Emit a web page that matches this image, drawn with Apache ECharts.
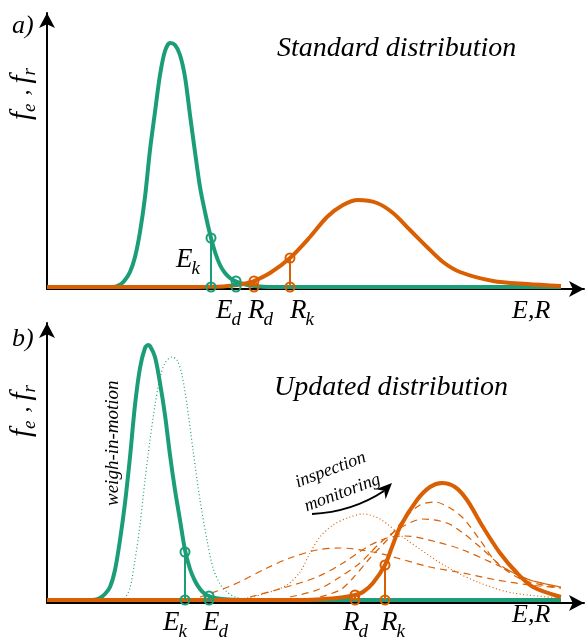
<!DOCTYPE html>
<html><head><meta charset="utf-8">
<script src="https://cdn.jsdelivr.net/npm/echarts@6/dist/echarts.min.js"></script>
<style>html,body{margin:0;padding:0;background:#fff}#c{width:586px;height:641px}</style>
</head><body><div id="c"></div>
<script>
const GREEN = '#1b9e77', ORANGE = '#d95f02';
// ---- panel a (x: E/R scale units, y: density units) ----
const aGreen = [[66,0],[70,1],[74,3],[78,7],[83,15],[88,30],[93,55],[98,90],[103,137],[108,175],[113,212],[118,236],[123,244],[128,242],[133,232],[138,210],[143,172],[148,135],[153,100],[158,75],[163,53],[168,35],[173,22],[178,14],[183,9],[188,6],[193,4],[203,1.5],[213,0.5],[228,0],[514,0]];
const aOrange = [[0,0],[140,0],[160,0.2],[176,0.6],[186,1.5],[196,3],[207,6],[223,14],[243,29],[263,50],[280,70],[296,82],[311,87],[330,84],[346,74],[363,57],[380,40],[396,25],[413,15],[446,6],[480,3],[514,1]];
const aMarks = [['Ek',164,49,GREEN],['Ed',189,6,GREEN],['Rd',207,6,ORANGE],['Rk',243,29,ORANGE]];
// ---- panel b ----
const bGreen = [[45,0],[49,0.5],[53,2],[58,6],[63,13],[68,30],[73,60],[78,97],[83,143],[88,195],[93,232],[98,252],[101,255],[103,254],[108,243],[113,217],[118,185],[123,145],[128,110],[133,80],[138,50],[143,31],[148,19],[153,11],[158,6],[163,3.5],[168,2],[178,0.7],[193,0],[514,0]];
const bGreenPrior = [[74,0],[78,2],[83,12],[88,40],[93,75],[98,120],[103,160],[108,195],[113,222],[118,237],[125,243],[130,240],[135,225],[140,195],[146,150],[153,100],[160,60],[166,32],[173,16],[180,8],[188,3],[198,1],[208,0]];
const bOrange = [[0,0],[250,0],[270,0.5],[285,1.5],[298,3],[308,5],[316,8],[326,17],[338,35],[345,53],[353,73],[370,100],[383,113],[395,117],[408,113],[420,100],[436,73],[453,47],[470,27],[486,13],[514,3]];
const bOrangePrior = [[190,0.5],[200,2],[220,7],[240,15],[253,28],[263,47],[273,63],[286,75],[303,83],[316,86],[333,81],[360,60],[400,33],[433,17],[466,7],[514,2]];
const bUpd1 = [[153,3],[186,15],[220,32],[243,42],[270,50],[293,52],[326,48],[350,42],[383,33],[416,27],[450,20],[483,15],[514,12]];
const bUpd2 = [[203,3],[236,12],[270,23],[296,37],[320,53],[340,62],[358,64],[390,58],[416,50],[450,35],[483,20],[514,13]];
const bUpd3 = [[243,3],[270,10],[293,23],[313,37],[333,57],[353,72],[376,81],[400,77],[416,67],[433,53],[456,33],[483,20],[514,13]];
const bUpd4 = [[273,3],[293,10],[306,22],[323,42],[340,60],[358,82],[373,95],[388,98],[403,92],[416,82],[433,60],[450,37],[476,20],[514,12]];
const bMarks = [['Ek',138,48,GREEN],['Ed',162,4,GREEN],['Rd',308,5,ORANGE],['Rk',338,35,ORANGE]];

const FF = '"Liberation Serif","Times New Roman",serif';
const ctx = document.createElement('canvas').getContext('2d');
function tw(t, font){ ctx.font = font; return ctx.measureText(t).width; }
function label(x, y, parts, rot){
  let cx = 0; const children = [];
  parts.forEach(p => {
    const font = 'italic ' + p[1] + 'px ' + FF;
    children.push({type:'text', x:cx, y:p[2]||0, style:{text:p[0], font:font, fill:'#000', verticalAlign:'middle', align:'left'}});
    cx += tw(p[0], font) + (p[3]||0);
  });
  return {type:'group', x:x, y:y, rotation:rot||0, children:children};
}
function sub(x, y, a, b){ return label(x, y, [[a,27,0,-1],[b,19,9]]); }

function curve(data, color, gi, width, dash, z){
  return {type:'line', xAxisIndex:gi, yAxisIndex:gi, data:data, smooth:0.3, showSymbol:false, symbol:'none',
    lineStyle:{color:color, width:width, type:dash||'solid', opacity:1}, z:z||2, silent:true};
}
function marker(m, gi){
  return {type:'line', xAxisIndex:gi, yAxisIndex:gi, data:[[m[1],0],[m[1],m[2]]], symbol:'circle', symbolSize:9, showSymbol:true,
    itemStyle:{color:'rgba(255,255,255,0)', borderColor:m[3], borderWidth:2}, lineStyle:{color:m[3], width:2}, z:5, silent:true};
}
const axisX = gi => ({type:'value', gridIndex:gi, min:0, max:537, axisLine:{onZero:false, lineStyle:{color:'#000', width:2}, symbol:['none','arrow'], symbolSize:[12,15]}, axisTick:{show:false}, axisLabel:{show:false}, splitLine:{show:false}});
const axisY = (gi, mn, mx) => ({type:'value', gridIndex:gi, min:mn, max:mx, axisLine:{show:true, onZero:false, lineStyle:{color:'#000', width:2}, symbol:['none','arrow'], symbolSize:[12,15]}, axisTick:{show:false}, axisLabel:{show:false}, splitLine:{show:false}});

const series = [
  curve(aGreen, GREEN, 0, 4),
  curve(aOrange, ORANGE, 0, 4, 'solid', 3),
  ...aMarks.map(m => marker(m, 0)),
  curve(bGreenPrior, GREEN, 1, 1.2, [1,2.5]),
  curve(bOrangePrior, ORANGE, 1, 1.2, [1,2.5]),
  curve(bUpd1, ORANGE, 1, 1.2, [7,5]),
  curve(bUpd2, ORANGE, 1, 1.2, [7,5]),
  curve(bUpd3, ORANGE, 1, 1.2, [7,5]),
  curve(bUpd4, ORANGE, 1, 1.2, [7,5]),
  curve(bGreen, GREEN, 1, 4, 'solid', 3),
  curve(bOrange, ORANGE, 1, 4, 'solid', 4),
  ...bMarks.map(m => marker(m, 1))
];

// arrow for "inspection monitoring"
const P0 = [312,514], C = [352,512], P2 = [384,491], tip = [392,483];
const ang = Math.atan2(tip[1]-P2[1], tip[0]-P2[0]);
function rot(dx, dy){ return [tip[0] + dx*Math.cos(ang) - dy*Math.sin(ang), tip[1] + dx*Math.sin(ang) + dy*Math.cos(ang)]; }
const head = [rot(0,0), rot(-16,7), rot(-11,0), rot(-16,-7)];

const graphic = [
  label(12, 26, [['a)',26]]),
  label(12, 339, [['b)',26]]),
  label(22, 120, [['f',29,0,0],['e',19,8,2],[' , ',24,0],['f',29,0,0],['r',19,8]], Math.PI/2),
  label(22, 437, [['f',29,0,0],['e',19,8,2],[' , ',24,0],['f',29,0,0],['r',19,8]], Math.PI/2),
  label(277, 49, [['Standard distribution',28]]),
  label(274, 388, [['Updated distribution',28]]),
  sub(176, 260, 'E', 'k'),
  sub(216, 311, 'E', 'd'),
  sub(248, 311, 'R', 'd'),
  sub(290, 311, 'R', 'k'),
  label(512, 311, [['E,R',26]]),
  sub(163, 623, 'E', 'k'),
  sub(203, 623, 'E', 'd'),
  sub(343, 623, 'R', 'd'),
  sub(381, 623, 'R', 'k'),
  label(512, 615, [['E,R',26]]),
  label(113, 506, [['weigh-in-motion',19]], Math.PI/2),
  label(296, 483, [['inspection',18]], 0.36),
  label(305, 507, [['monitoring',18]], 0.36),
  {type:'bezierCurve', shape:{x1:P0[0], y1:P0[1], cpx1:C[0], cpy1:C[1], x2:P2[0], y2:P2[1]}, style:{stroke:'#000', lineWidth:2, fill:null}},
  {type:'polygon', shape:{points:head}, style:{fill:'#000'}}
];

const chart = echarts.init(document.getElementById('c'), null, {renderer:'canvas'});
chart.setOption({
  animation:false,
  backgroundColor:'#fff',
  grid:[{left:47, right:2, top:13, bottom:352}, {left:47, right:2, top:323, bottom:38}],
  xAxis:[axisX(0), axisX(1)],
  yAxis:[axisY(0,-2,274), axisY(1,-3,277)],
  series:series,
  graphic:graphic
});
</script></body></html>
